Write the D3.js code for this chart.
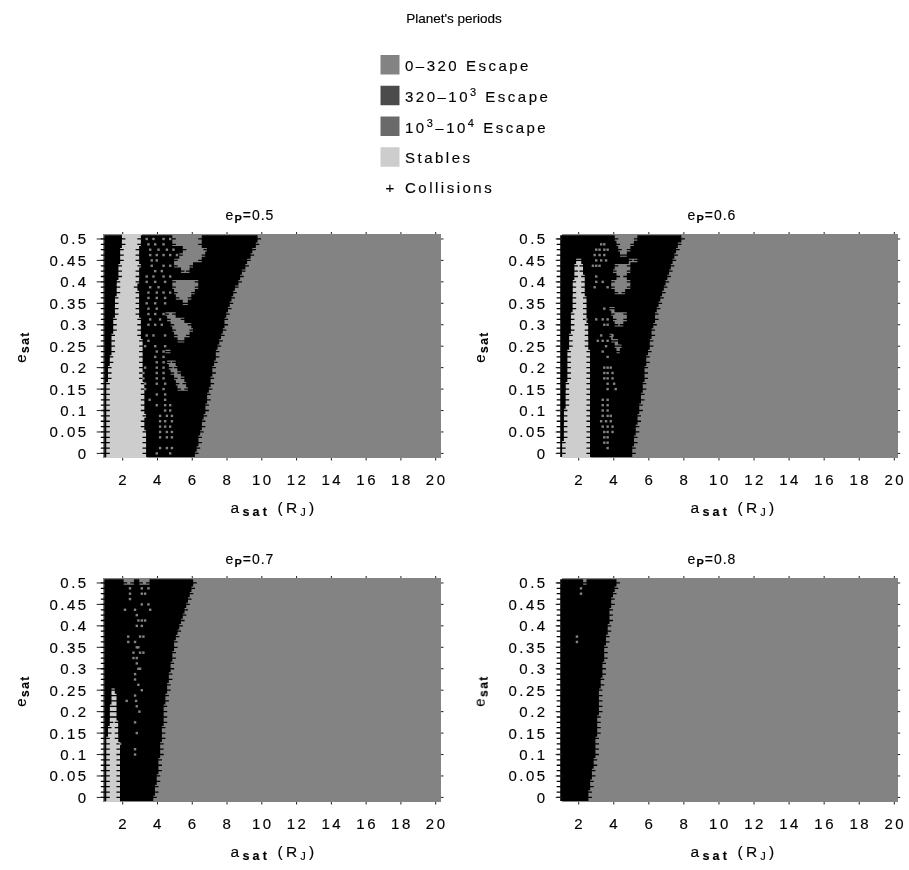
<!DOCTYPE html>
<html><head><meta charset="utf-8"><style>
html,body{margin:0;padding:0;background:#fff}
svg{display:block}
text{font-family:"Liberation Sans",Arial,sans-serif;fill:#000;stroke:#000;stroke-width:0.15}
</style>
<script src="https://cdn.jsdelivr.net/npm/d3@7"></script></head><body>
<svg id="c" width="909" height="870"></svg>
<script>
const eTicks=[0,0.05,0.1,0.15,0.2,0.25,0.3,0.35,0.4,0.45,0.5];
const aTicks=[2,4,6,8,10,12,14,16,18,20];
const legendNames=["0–320 Escape","320–10^3 Escape","10^3–10^4 Escape","Stables"];
const legendColors=["#838383","#4b4b4b","#6a6a6a","#cdcdcd"];
const panelTitles=["0.5","0.6","0.7","0.8"];

// collision outer edge in a_sat, one value per e_sat row (e = 0, 0.0125, ... 0.5)
const edge5=[6.15,6.2,6.3,6.38,6.45,6.52,6.58,6.64,6.7,6.76,6.82,6.88,6.95,7,7.05,7.1,7.15,7.22,7.3,7.38,7.45,7.52,7.6,7.7,7.8,7.88,7.96,8.05,8.15,8.25,8.36,8.48,8.6,8.72,8.86,9,9.15,9.3,9.45,9.6,9.75];
const edge6=[5,5.05,5.1,5.16,5.22,5.26,5.3,5.35,5.4,5.45,5.5,5.55,5.6,5.65,5.7,5.74,5.78,5.84,5.88,5.94,6,6.06,6.12,6.18,6.24,6.3,6.36,6.43,6.5,6.6,6.7,6.8,6.9,7,7.1,7.22,7.35,7.45,7.55,7.68,7.8];
const edge7=[3.77,3.82,3.86,3.92,3.96,4,4.03,4.07,4.1,4.14,4.18,4.22,4.25,4.28,4.3,4.33,4.35,4.38,4.42,4.46,4.5,4.56,4.62,4.68,4.73,4.78,4.82,4.87,4.92,4.98,5.05,5.12,5.2,5.3,5.4,5.5,5.6,5.7,5.82,5.93,6.04];
const edge8=[2.54,2.58,2.62,2.67,2.72,2.76,2.8,2.85,2.9,2.92,2.95,2.97,3,3.03,3.05,3.08,3.1,3.12,3.15,3.17,3.19,3.22,3.26,3.3,3.33,3.36,3.4,3.43,3.46,3.5,3.55,3.6,3.65,3.7,3.74,3.78,3.83,3.88,3.94,4.02,4.11];

// stable band [from,to] in a_sat per row; null when the row has none
const stable5=[[1.05,3.4],[1.05,3.4],[1.05,3.35],[1.05,3.35],[1.05,3.35],[1.05,3.3],[1.05,3.3],[1.05,3.35],[1.05,3.3],[1.05,3.3],[1.05,3.3],[1.05,3.3],[1.05,3.3],[1.05,3.25],[1.1,3.2],[1.15,3.2],[1.15,3.2],[1.2,3.2],[1.25,3.2],[1.3,3.15],[1.3,3.15],[1.35,3.15],[1.35,3.1],[1.4,3.1],[1.45,3.05],[1.45,3.05],[1.5,3],[1.5,2.95],[1.55,2.95],[1.55,2.95],[1.6,2.95],[1.6,2.9],[1.65,2.95],[1.7,3],[1.7,3],[1.75,3.05],[1.8,3],[1.85,3],[1.85,3],[1.9,3.05],[1.95,3.1]];
const stable6=[[1.05,2.7],[1.05,2.7],[1.05,2.7],[1.1,2.7],[1.1,2.7],[1.1,2.7],[1.15,2.7],[1.15,2.7],[1.15,2.7],[1.2,2.7],[1.2,2.7],[1.2,2.7],[1.25,2.7],[1.25,2.7],[1.3,2.7],[1.3,2.7],[1.3,2.7],[1.3,2.65],[1.35,2.65],[1.35,2.65],[1.4,2.6],[1.45,2.6],[1.45,2.55],[1.5,2.55],[1.5,2.55],[1.55,2.5],[1.55,2.5],[1.6,2.45],[1.6,2.45],[1.6,2.45],[1.65,2.4],[1.65,2.4],[1.65,2.35],[1.7,2.35],[1.75,2.3],[1.75,2.3],[1.8,2.2],null,null,null,null];
const stable7=[[1.05,1.82],[1.05,1.82],[1.05,1.82],[1.05,1.82],[1.05,1.82],[1.05,1.82],[1.05,1.85],[1.05,1.85],[1.05,1.85],[1.05,1.85],[1.05,1.85],[1.05,1.8],[1.1,1.75],[1.15,1.75],[1.2,1.75],[1.25,1.7],[1.25,1.7],[1.25,1.7],[1.3,1.7],[1.3,1.65],[1.35,1.55],null,null,null,null,null,null,null,null,null,null,null,null,null,null,null,null,null,null,null,null];
const stable8=Array(41).fill(null);

// gray windows inside the collision region: [rowIndex, from, to]
const win5=[[40,4.85,6.5],[39,4.85,6.5],[38,5.45,6.85],[37,5.25,6.75],[36,5,6.5],[35,4.95,6.05],[34,5.4,5.8],
[32,4.85,6.35],[31,4.85,6.3],[30,5,6.1],[29,5.1,5.95],[28,5.45,5.75],
[26,4.45,5],[25,4.55,5.5],[24,4.8,5.95],[23,4.9,6],[22,5,5.8],[21,5.2,5.55],
[19,4.5,4.75],[17,4.6,5.05],[16,4.7,5.15],[15,4.8,5.35],[14,5,5.55],[13,5.1,5.65],[12,5.2,5.75]];
const win6=[[40,4.05,5.3],[39,4.2,5.1],[38,4.25,4.95],[37,4.4,4.7],[36,4.9,5.3],[35,4.05,4.95],[34,3.95,4.9],[33,4.2,4.75],
[32,3.9,4.95],[31,3.9,4.95],[30,4.1,4.65],[27,3.75,4],[26,3.85,4.75],[25,3.95,4.75],[24,4.1,4.5],
[22,3.75,3.95],[21,3.85,4.25],[20,4.05,4.45],[19,4.15,4.35]];
const win7=[[40,2.1,2.6],[40,3,3.55]];
const win8=[[40,2.3,2.4]];

// isolated non-collision points among the collisions: rowIndex -> a_sat values
const dots5=[[40,[3.38,3.77,4.35,4.73]],[39,[3.48,3.87,4.35]],[38,[3.58,4.06,4.54,4.92]],[37,[3.58,3.96,4.35,4.73,5.12]],[36,[3.67,3.96]],[35,[3.67,4.35,4.73]],[34,[3.87,4.25]],[33,[3.38,3.77,4.35,4.73]],[32,[3.38,3.87,4.44]],[31,[3.58,4.06]],[30,[3.48,3.96,4.35,4.73]],[29,[3.48,3.96,4.44]],[28,[3.38,3.87,4.44]],[27,[3.48,3.96]],[26,[3.48,3.87,4.35]],[25,[3.58,4.15]],[24,[3.48,3.87,4.25]],[22,[3.38,3.77,4.44]],[21,[3.48]],[20,[3.29,3.87,4.44]],[19,[3.96,4.35]],[18,[3.87,4.35]],[17,[3.96,4.35]],[16,[3.29,3.96,4.35]],[15,[3.19,3.96,4.35]],[14,[3.19,3.96,4.35]],[13,[3.29,3.96,4.44]],[12,[3.29,4.35]],[11,[3.96,4.44]],[10,[3.55,4.44]],[9,[3.96,4.44,4.73]],[8,[4.44,4.73]],[7,[4.15,4.54,4.83]],[6,[4.15,4.44,4.83]],[5,[4.15,4.44,4.73]],[4,[4.15,4.54,4.83]],[3,[4.15,4.54,4.83]],[1,[4.15,4.54,4.83]],[0,[3.96,4.73]]];
const dots6=[[39,[3.28,3.46]],[38,[3,3.19,3.46,3.65]],[37,[2.91,3.19,3.46]],[36,[3,3.28,3.56]],[35,[2.81,3,3.19]],[33,[3]],[32,[3,3.37]],[31,[2.91,3.65]],[27,[3.46]],[25,[2.44,3,3.37,3.65]],[24,[3.46,3.65]],[22,[3.28,3.93]],[21,[3.09,3.37,3.65]],[20,[3.56]],[19,[3.37]],[18,[3.65]],[16,[3.46,3.65,3.83]],[15,[3.46,3.65,3.93]],[14,[3.46,3.65,3.93]],[13,[3.65,4.02]],[12,[3.65,4.11]],[10,[3.37,3.65]],[9,[3.37,3.65]],[8,[3.37,3.65]],[7,[3.37,3.65,3.83]],[6,[3.28,3.56,3.83]],[5,[3.37,3.65,3.93]],[4,[3.46,3.65,3.93]],[3,[3.46,3.65]],[2,[3.46,3.65]],[1,[3.65]]];
const dots7=[[39,[2.42,3.1,3.48]],[38,[2.42,3.1,3.29]],[37,[2.42]],[36,[3.1,3.48]],[35,[2.13,2.71,3.58]],[34,[2.81]],[33,[2.9,3.1,3.29]],[32,[2.81,3.1]],[30,[2.32,3,3.19]],[29,[2.32,2.71]],[28,[2.81,2.9]],[27,[2.62,3,3.19]],[26,[2.62,2.81]],[25,[2.81]],[24,[2.9,3]],[23,[2.71]],[22,[2.71]],[21,[2.9]],[20,[3.1]],[19,[2.71]],[18,[2.23,2.77]],[17,[2.81]],[16,[2.96]],[14,[2.71]],[12,[2.81]],[10,[1.85]],[9,[2.71]],[8,[2.71]]];
const dots8=[[39,[2.13]],[38,[2.13]],[30,[1.9]],[29,[1.9]]];

const panels=[
 {title:panelTitles[0],edge:edge5,stable:stable5,win:win5,dots:dots5,x0:102.7,x1:441,a2:122.7,a20:435.7,y0:458,y1:234,tx:250,lx:274},
 {title:panelTitles[1],edge:edge6,stable:stable6,win:win6,dots:dots6,x0:561.7,x1:897.7,a2:578.7,a20:894.3,y0:458,y1:234,tx:712,lx:734},
 {title:panelTitles[2],edge:edge7,stable:stable7,win:win7,dots:dots7,x0:102.7,x1:441,a2:122.7,a20:435.7,y0:802,y1:578,tx:250,lx:274},
 {title:panelTitles[3],edge:edge8,stable:stable8,win:win8,dots:dots8,x0:561.7,x1:897.7,a2:578.7,a20:894.3,y0:802,y1:578,tx:712,lx:734}];

const svg=d3.select("#c");
svg.append("defs").append("filter").attr("id","soft").append("feGaussianBlur").attr("stdDeviation",0.5);
const root=svg.append("g").attr("filter","url(#soft)");
const FS=15, LS=2.5;

function sup(t,str,fs){
  str.split(/\^(\d)/).forEach((p,i)=>{
    const s=t.append("tspan").text(p);
    if(i%2){s.attr("dy",-6).attr("font-size",fs-4)}
    else if(i>0){s.attr("dy",6)}
  });
}
function sub(t,base,small,rest,fs){
  t.append("tspan").text(base);
  t.append("tspan").attr("dy",3).attr("font-size",fs-3).attr("font-weight","bold").text(small);
  t.append("tspan").attr("dy",-3).text(rest);
}

root.append("text").attr("x",454).attr("y",23).attr("text-anchor","middle").attr("font-size",13.5).text("Planet's periods");

const rows=d3.range(41);
const gridA=d3.range(10,201).map(d=>d/10);

panels.forEach(p=>{
  const x=d3.scaleLinear().domain([2,20]).range([p.a2,p.a20]);
  const y=d3.scaleLinear().domain([-0.0107,0.5116]).range([p.y0,p.y1]);
  const g=root.append("g");
  const rowH=Math.abs(y(0.0125)-y(0))+0.6;
  const rowY=i=>i===40?p.y1:y(i*0.0125)-rowH/2;
  const rowH2=i=>i===40?y(0.5)-p.y1+rowH/2:i===0?p.y0-y(0)+rowH/2:rowH;
  const band=g.append("g").attr("shape-rendering","crispEdges");
  band.append("g").selectAll("rect").data(rows).join("rect")
    .attr("x",p.x0).attr("width",p.x1-p.x0)
    .attr("y",rowY).attr("height",rowH2)
    .attr("fill",legendColors[0]);
  band.append("g").selectAll("rect").data(rows.filter(i=>p.stable[i])).join("rect")
    .attr("x",i=>Math.max(p.x0,x(p.stable[i][0]))).attr("width",i=>x(p.stable[i][1])-Math.max(p.x0,x(p.stable[i][0])))
    .attr("y",rowY).attr("height",rowH2)
    .attr("fill",legendColors[3]);
  const pts=[];
  rows.forEach(i=>{
    const st=p.stable[i], w=p.win.filter(d=>d[0]===i);
    gridA.forEach(a=>{
      if(a>p.edge[i]) return;
      if(st&&a>st[0]&&a<st[1]) return;
      if(w.some(d=>a>=d[1]&&a<=d[2])) return;
      pts.push([a,i*0.0125]);
    });
  });
  g.append("path").attr("fill","none").attr("stroke","#000").attr("stroke-width",1.3)
    .attr("d",pts.map(d=>{const X=x(d[0]),Y=y(d[1]);return `M${X-4.5},${Y}H${X+4.5}`}).join(""));
  g.append("path").attr("fill","none").attr("stroke","#000").attr("stroke-width",1.9)
    .attr("d",pts.map(d=>{const X=x(d[0]),Y=y(d[1]);return `M${X},${Y-3.6}V${Y+3.6}`}).join(""));
  // small non-collision points inside the black region
  const ds=[];
  p.dots.forEach(d=>d[1].forEach(a=>ds.push([a,d[0]*0.0125])));
  g.append("g").selectAll("rect").data(ds).join("rect")
    .attr("x",d=>x(d[0])-1.2).attr("y",d=>y(d[1])-1.2).attr("width",2.4).attr("height",2.4).attr("fill",legendColors[0]);
  // axes
  const tk=g.append("g");
  tk.selectAll("line.b").data(aTicks).join("line").attr("class","b")
    .attr("x1",d=>x(d)).attr("x2",d=>x(d)).attr("y1",p.y0).attr("y2",p.y0+2.5).attr("stroke","#222");
  tk.selectAll("line.t").data(aTicks).join("line").attr("class","t")
    .attr("x1",d=>x(d)).attr("x2",d=>x(d)).attr("y1",p.y1).attr("y2",p.y1-2).attr("stroke","#222");
  tk.selectAll("line.l").data(eTicks).join("line").attr("class","l")
    .attr("x1",p.x0-6).attr("x2",p.x0).attr("y1",d=>y(d)).attr("y2",d=>y(d)).attr("stroke","#222");
  tk.selectAll("line.r").data(eTicks).join("line").attr("class","r")
    .attr("x1",p.x1).attr("x2",p.x1+2.5).attr("y1",d=>y(d)).attr("y2",d=>y(d)).attr("stroke","#222");
  tk.selectAll("text.a").data(aTicks).join("text").attr("class","a")
    .attr("x",d=>x(d)+1).attr("y",p.y0+27).attr("text-anchor","middle").attr("font-size",FS).attr("letter-spacing",LS).text(d=>d);
  tk.selectAll("text.e").data(eTicks).join("text").attr("class","e")
    .attr("x",p.x0-14).attr("y",d=>y(d)+5.5).attr("text-anchor","end").attr("font-size",FS).attr("letter-spacing",LS).text(d=>d);
  const tl=g.append("text").attr("x",p.tx).attr("y",p.y1-14).attr("text-anchor","middle").attr("font-size",14).attr("letter-spacing",1);
  sub(tl,"e","P","="+p.title,14);
  const xl=g.append("text").attr("x",p.lx).attr("y",p.y0+55).attr("text-anchor","middle").attr("font-size",15.5).attr("letter-spacing",3.2);
  sub(xl,"a","sat"," (R",15.5);
  xl.append("tspan").attr("dy",3).attr("font-size",11).text("J");
  xl.append("tspan").attr("dy",-3).text(")");
  const yl=g.append("text").attr("transform",`translate(${p.x0-77},${(p.y0+p.y1)/2+1}) rotate(-90)`)
    .attr("text-anchor","middle").attr("font-size",FS).attr("letter-spacing",1.5);
  sub(yl,"e","sat","",FS);
});

// legend
const lg=root.append("g");
const legY=d3.scalePoint().domain(d3.range(5)).range([65,188]);
legendNames.forEach((n,i)=>{
  lg.append("rect").attr("x",380.5).attr("y",legY(i)-10).attr("width",19).attr("height",19.5).attr("fill",legendColors[i]);
  const t=lg.append("text").attr("x",405).attr("y",legY(i)+6).attr("font-size",FS).attr("letter-spacing",LS);
  sup(t,n,FS);
});
lg.append("text").attr("x",390).attr("y",legY(4)+5).attr("text-anchor","middle").attr("font-size",FS).text("+");
lg.append("text").attr("x",405).attr("y",legY(4)+5).attr("font-size",FS).attr("letter-spacing",LS).text("Collisions");
</script></body></html>
